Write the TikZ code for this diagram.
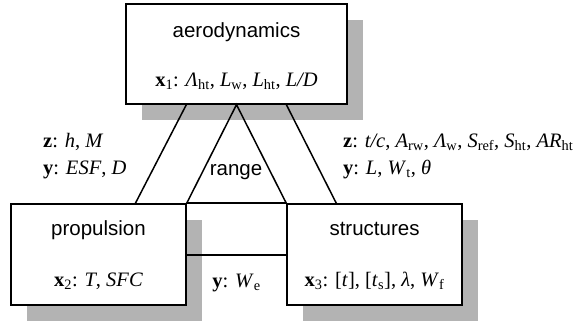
\documentclass[tikz,border=0pt]{standalone}
\usepackage{fontspec}
\setmainfont{Liberation Serif}
\setsansfont{Liberation Sans}
\usetikzlibrary{shadows,calc}
\definecolor{shadowgray}{RGB}{179,179,179}
\newcommand{\sbs}[1]{\textsubscript{#1}}
\begin{document}
\begin{tikzpicture}[x=1pt,y=-1pt,
  box/.style={draw, line width=1.3pt, fill=white, inner sep=0pt,
    drop shadow={shadow xshift=16pt, shadow yshift=-16pt, fill=shadowgray, opacity=1}},
  sanstxt/.style={font=\sffamily\fontsize{20.5}{24}\selectfont, inner sep=0pt},
  sertxt/.style={font=\rmfamily\fontsize{20.5}{27}\selectfont, inner sep=0pt},
  link/.style={line width=1.5pt}]
\useasboundingbox (0,0) rectangle (575,322);
% boxes
\node[box, minimum width=221pt, minimum height=100pt] (aero) at (236.5,54) {};
\node[box, minimum width=175pt, minimum height=101pt] (prop) at (98.5,254.5) {};
\node[box, minimum width=175pt, minimum height=101pt] (struc) at (374.5,254.5) {};
% box texts
\node[sanstxt, anchor=base] (aeroname) at (236.5,37) {aerodynamics};
\node[sertxt, anchor=base] (aerovars) at (236.5,86) {\textbf{x}\sbs{1}: \textit{Λ}\sbs{ht}, \textit{L}\sbs{w}, \textit{L}\sbs{ht}, \textit{L/D}};
\node[sanstxt, anchor=base] (propname) at (98.5,235) {propulsion};
\node[sertxt, anchor=base] (propvars) at (98.5,286) {\textbf{x}\sbs{2}: \textit{T}, \textit{SFC}};
\node[sanstxt, anchor=base] (strucname) at (374.5,235) {structures};
\node[sertxt, anchor=base] (strucvars) at (374.5,286) {\textbf{x}\sbs{3}: [\textit{t}], [\textit{t}\sbs{s}], \textit{λ}, \textit{W}\sbs{f}};
% connector end points
\coordinate (la) at ($(aero.south west)+(61,0)$);
\coordinate (lb) at ($(prop.north west)+(125,0)$);
\coordinate (ra) at ($(aero.south west)+(161,0)$);
\coordinate (rb) at ($(struc.north west)+(50,0)$);
\coordinate (ma) at ($(prop.east)+(0,0.5)$);
\coordinate (mb) at ($(struc.west)+(0,0.5)$);
% connectors
\draw[link] (la) -- (lb);
\draw[link] (ra) -- (rb);
\draw[link] (prop.north east) -- (aero.south) -- (struc.north west);
\draw[line width=2.2pt] (prop.north east) -- (struc.north west);
\draw[line width=2pt] (ma) -- (mb);
% labels
\node[sanstxt, anchor=base] (rangelbl) at (236,175) {range};
\node[sertxt, anchor=base west] (lz) at (43,147) {\textbf{z}: \textit{h}, \textit{M}};
\node[sertxt, anchor=base west] (ly) at (43,174) {\textbf{y}: \textit{ESF}, \textit{D}};
\node[sertxt, anchor=base west] (rz) at (343,147) {\textbf{z}: \textit{t/c}, \textit{A}\sbs{rw}, \textit{Λ}\sbs{w}, \textit{S}\sbs{ref}, \textit{S}\sbs{ht}, \textit{AR}\sbs{ht}};
\node[sertxt, anchor=base west] (ry) at (343,174) {\textbf{y}: \textit{L}, \textit{W}\sbs{t}, \textit{θ}};
\node[sertxt, anchor=base] (bw) at (236.5,287) {\textbf{y}: \textit{W}\sbs{e}};
\end{tikzpicture}
\end{document}
